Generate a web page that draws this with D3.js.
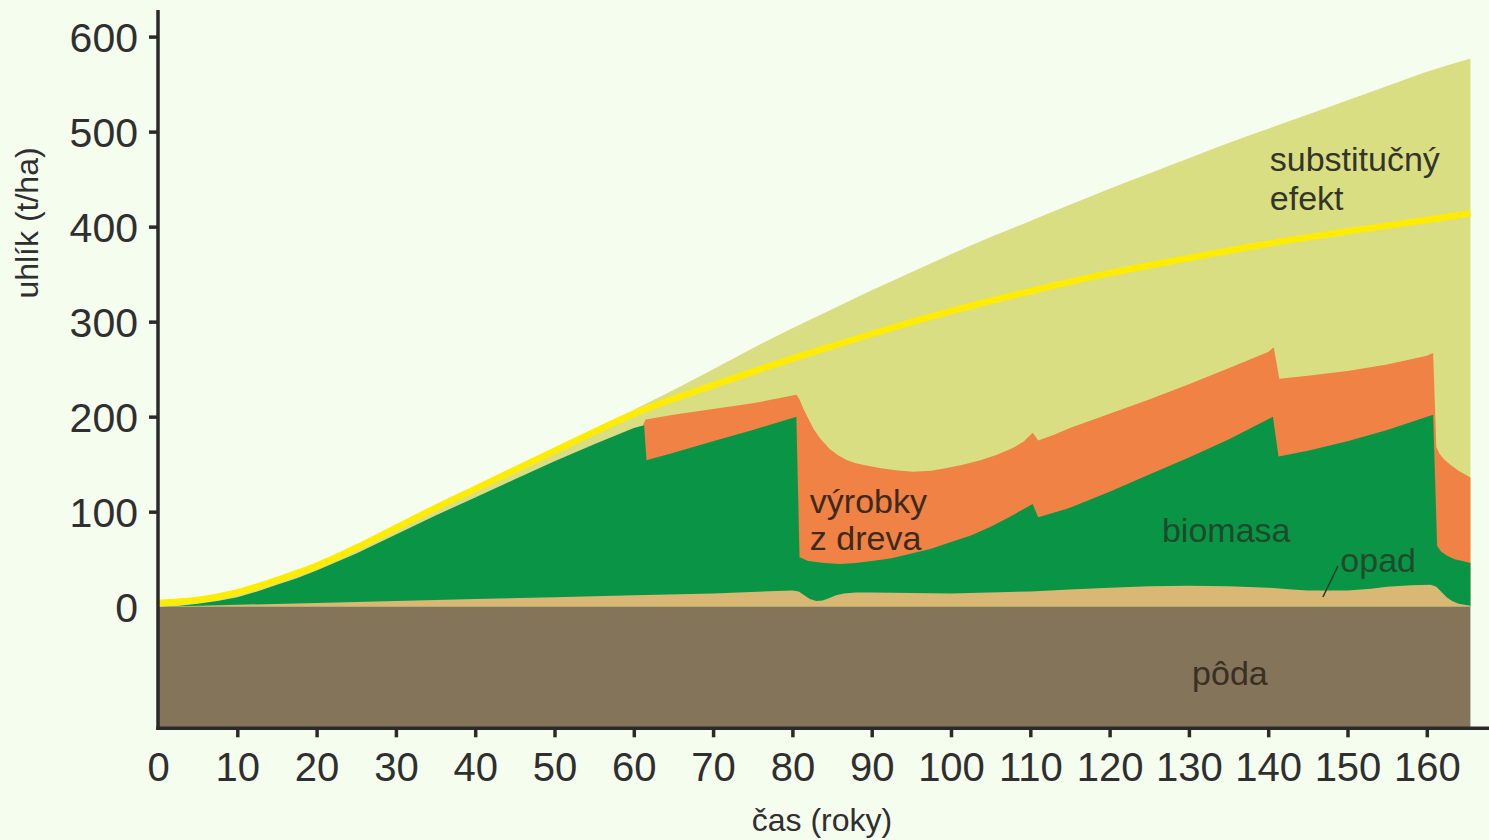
<!DOCTYPE html>
<html>
<head>
<meta charset="utf-8">
<script src="https://cdn.jsdelivr.net/npm/d3@7"></script>
<style>
  html, body { margin: 0; padding: 0; background: #f5fdef; }
  svg { display: block; }
  text { font-family: "Liberation Sans", Arial, Helvetica, sans-serif; }
</style>
</head>
<body>
<svg id="chart" width="1489" height="840"></svg>
<script>
// ---- data (years, t/ha of carbon; boundaries are cumulative tops) ----
const xTicks = [0,10,20,30,40,50,60,70,80,90,100,110,120,130,140,150,160];
const yTicks = [0,100,200,300,400,500,600];

const soil = [[0,-128],[165.5,-128]];

const litterTop = [[0,0],[10,2],[20,4],[30,6],[40,8],[50,10],[60,12],[70,14],[78,16.5],[80,17],[80.8,16],[81.5,12],[82.2,8],[83,6],[83.8,6.5],[84.6,9],[85.5,12],[86.5,14],[88,15],[90,15],[100,14],[110,16],[115,18],[120,20],[125,21.5],[130,22],[135,21.5],[140,20],[143,18],[145,17],[150,17],[153,19],[155,21],[158,22.5],[160.5,23],[161.2,21],[161.8,16],[162.5,10],[163.2,6],[164,3],[165.5,1]];

const biomassTop = [[0,0],[2.5,0.8],[5,3],[7.5,6],[10,10],[12.5,16],[15,23],[17.5,30],[20,38],[22.5,47],[25,56],[27.5,66],[30,76],[32.5,86],[35,96],[37.5,105.5],[40,115],[45,134],[50,153],[55,171],[60,188],[61.3,191],[61.6,154],[65,162],[70,174],[75,186],[80.5,200],[80.9,52],[82,48],[84,46],[86,45],[88,46],[90,48],[92.5,51],[95,56],[97.5,61],[100,68],[102.5,75],[105,84],[107.5,95],[110.3,108],[111,94],[115,104],[120,121],[125,139],[130,157],[135,176],[140.6,200],[141.3,158],[145,164],[150,174],[155,186],[160.8,202],[161.3,64],[161.8,58],[162.5,54],[163.5,50],[164.5,48],[165.5,46]];

const productsTop = [[61.2,192],[61.5,197],[65,202],[70,208],[75,214],[80.5,223],[80.9,218],[81.4,208],[82,198],[82.6,188],[83.5,177],[84.7,166],[85.8,159],[86.9,154],[88,151],[89,149],[91,146],[93,143.5],[95.2,142],[97.5,143],[99.5,146],[101.5,149.5],[103.7,154],[105.8,160],[107.8,167],[109.2,174],[110.3,183],[111,175],[113,181],[115,188],[120,203],[125,218],[130,234],[135,251],[140,268],[140.7,273],[141.4,240],[145,243],[150,248],[155,255],[160,264],[160.8,267],[161.2,168],[161.6,161],[162.2,155],[163,149],[164,143],[165.5,136]];

const substitutionTop = [[0,5],[5,8],[10,16],[15,29],[20,44],[25,63],[30,84],[35,105],[40,125],[45,145],[50,166],[55,187],[58,198],[60,207],[65,228],[70,250],[75,272],[80,293],[85,313],[90,333],[95,352],[100,371],[105,389],[110,406],[115,423],[120,440],[125,456],[130,472],[135,488],[140,503],[145,518],[150,533],[155,548],[160,563],[165.5,577]];

const withoutHarvest = [[0,4],[5,7],[10,15],[15,28],[20,43],[25,62],[30,83],[35,104],[40,124],[45,144],[50,164],[55,184],[60,203],[70,233],[80,261],[90,287],[100,311],[110,332],[120,351],[130,367],[140,382],[150,395],[160,407],[165.5,414]];

const labels = [
  {text:"substitučný", t:140.2, v:458.6, color:"#33352a"},
  {text:"efekt",       t:140.2, v:417.6, color:"#33352a"},
  {text:"výrobky",     t:82.2,  v:98.6,  color:"#3d2a1c"},
  {text:"z dreva",     t:82.2,  v:59.7,  color:"#3d2a1c"},
  {text:"biomasa",     t:126.6, v:68.1,  color:"#1c4a2a"},
  {text:"opad",        t:149.1, v:36.5,  color:"#1f4a2c"},
  {text:"pôda",        t:130.4, v:-82.4, color:"#3a2f22"}
];
const opadLeader = [[146.9,10.2],[148.8,42.8]];

// ---- scales ----
const svg = d3.select("#chart");
const x = d3.scaleLinear().domain([0,165.5]).range([158,158+7.93*165.5]);
const y = d3.scaleLinear().domain([-128,628]).range([728.3,10]);

function areaFor(data, curve){
  return d3.area().x(d=>x(d[0])).y0(y(0)).y1(d=>y(d[1])).curve(curve)(data);
}

// soil
svg.append("path").attr("d", areaFor(soil, d3.curveLinear)).attr("fill","#84745a");
// substitution effect
svg.append("path").attr("d", areaFor(substitutionTop, d3.curveMonotoneX)).attr("fill","#d9de82");
// wood products
svg.append("path").attr("d", areaFor(productsTop, d3.curveLinear)).attr("fill","#ef8244");
// biomass
svg.append("path").attr("d", areaFor(biomassTop, d3.curveLinear)).attr("fill","#0a9546");
// litter
svg.append("path").attr("d", areaFor(litterTop, d3.curveLinear)).attr("fill","#d9b775");
// no-harvest line
svg.append("path")
  .attr("d", d3.line().x(d=>x(d[0])).y(d=>y(d[1])).curve(d3.curveMonotoneX)(withoutHarvest))
  .attr("fill","none").attr("stroke","#ffec00").attr("stroke-width",6.5).attr("stroke-linecap","butt");

// ---- axes ----
const axisColor = "#2a2a2a";
const yAxis = svg.append("g").attr("transform",`translate(${x(0)},0)`)
  .call(d3.axisLeft(y).tickValues(yTicks).tickSize(9).tickPadding(11).tickFormat(d3.format("d")));
yAxis.select(".domain").remove();
yAxis.selectAll(".tick line").attr("stroke",axisColor).attr("stroke-width",3.5)
  .attr("opacity", d => d===0 ? 0 : 1);
yAxis.selectAll(".tick text").attr("fill","#2f2f2f").style("font-size","41px")
  .attr("dy","0.36em").style("font-family","'Liberation Sans', Arial, sans-serif");

const xAxis = svg.append("g").attr("transform",`translate(0,${y(-128)})`)
  .call(d3.axisBottom(x).tickValues(xTicks).tickSize(9).tickPadding(15).tickFormat(d3.format("d")));
xAxis.select(".domain").remove();
xAxis.selectAll(".tick line").attr("stroke",axisColor).attr("stroke-width",3.5)
  .attr("opacity", d => d===0 ? 0 : 1);
xAxis.selectAll(".tick text").attr("fill","#2f2f2f").style("font-size","40px")
  .style("font-family","'Liberation Sans', Arial, sans-serif");

// axis lines
svg.append("line").attr("x1",x(0)).attr("x2",x(0)).attr("y1",10).attr("y2",y(-128)+1.75)
  .attr("stroke",axisColor).attr("stroke-width",3.5);
svg.append("line").attr("x1",x(0)-1.75).attr("x2",1489).attr("y1",y(-128)).attr("y2",y(-128))
  .attr("stroke",axisColor).attr("stroke-width",3.5);

// axis titles
svg.append("text").attr("x",822).attr("y",831).attr("text-anchor","middle")
  .attr("fill","#2f2f2f").style("font-size","32px").text("čas (roky)");
svg.append("text").attr("transform","translate(38,223) rotate(-90)").attr("text-anchor","middle")
  .attr("fill","#2f2f2f").style("font-size","32px").text("uhlík (t/ha)");

// in-chart labels
svg.selectAll("text.lbl").data(labels).enter().append("text").attr("class","lbl")
  .attr("x",d=>x(d.t)).attr("y",d=>y(d.v)).attr("fill",d=>d.color)
  .style("font-size","34px").text(d=>d.text);
svg.append("path").attr("d", d3.line().x(d=>x(d[0])).y(d=>y(d[1]))(opadLeader))
  .attr("stroke","#1f3a28").attr("stroke-width",1.5).attr("fill","none");
</script>
</body>
</html>
